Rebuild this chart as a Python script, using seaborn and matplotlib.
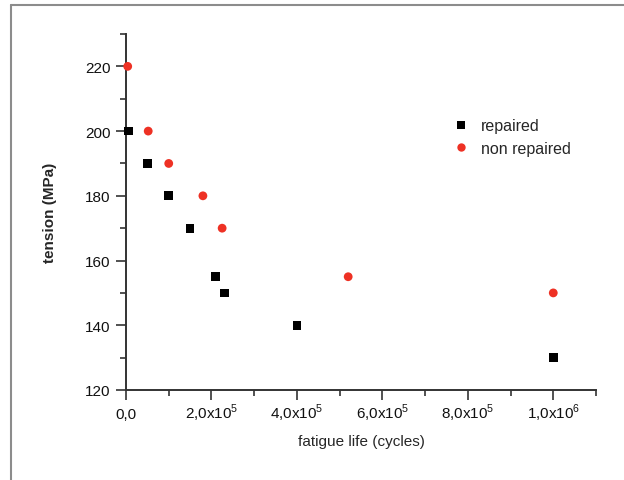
import pandas as pd
import matplotlib.pyplot as plt
import seaborn as sns
from matplotlib.lines import Line2D
from matplotlib.ticker import MultipleLocator

# fatigue data
repaired_cycles = [5e3, 5e4, 1e5, 1.5e5, 2.1e5, 2.3e5, 4e5, 1e6]
repaired_tension = [200, 190, 180, 170, 155, 150, 140, 130]

non_repaired_cycles = [4e3, 5.2e4, 1e5, 1.8e5, 2.25e5, 5.2e5, 1e6]
non_repaired_tension = [220, 200, 190, 180, 170, 155, 150]

x_ticks = [0, 2e5, 4e5, 6e5, 8e5, 1e6]
x_tick_labels = ['0,0', r'2,0x10$^5$', r'4,0x10$^5$', r'6,0x10$^5$',
                 r'8,0x10$^5$', r'1,0x10$^6$']
y_ticks = [120, 140, 160, 180, 200, 220]

df = pd.concat([
    pd.DataFrame({'cycles': repaired_cycles, 'tension': repaired_tension,
                  'group': 'repaired'}),
    pd.DataFrame({'cycles': non_repaired_cycles, 'tension': non_repaired_tension,
                  'group': 'non repaired'}),
])

sns.set_theme(style="white")
plt.rcParams['font.family'] = ['Liberation Sans', 'DejaVu Sans']
plt.rcParams['mathtext.fontset'] = 'custom'
plt.rcParams['mathtext.rm'] = 'Liberation Sans'

fig = plt.figure(figsize=(6.24, 4.81), dpi=100)
ax = fig.add_axes([126 / 624, 1 - 391 / 481, 470 / 624, 356 / 481])

sns.scatterplot(
    data=df, x='cycles', y='tension', hue='group', style='group',
    palette={'repaired': 'black', 'non repaired': '#ee3124'},
    markers={'repaired': 's', 'non repaired': 'o'},
    s=40, linewidth=0, ax=ax, clip_on=False, zorder=3
)

ax.set_xlim(0, 1.1e6)
ax.set_ylim(120, 230)
ax.set_xticks(x_ticks)
ax.set_xticklabels(x_tick_labels)
ax.set_yticks(y_ticks)
ax.xaxis.set_minor_locator(MultipleLocator(1e5))
ax.yaxis.set_minor_locator(MultipleLocator(10))

for side in ['top', 'right']:
    ax.spines[side].set_visible(False)
for side in ['left', 'bottom']:
    ax.spines[side].set_color('#333333')
    ax.spines[side].set_linewidth(1.4)

ax.tick_params(which='major', direction='out', length=7, width=1.2,
               color='#333333', labelsize=11, labelcolor='#111111', pad=4,
               left=True, bottom=True)
ax.tick_params(which='minor', direction='out', length=4, width=1.2,
               color='#333333', left=True, bottom=True)
ax.tick_params(axis='x', which='major', pad=13)

# keep all x tick labels on one baseline despite the superscripts
for lab in ax.get_xticklabels():
    lab.set_verticalalignment('baseline')

ax.set_xlabel('fatigue life (cycles)', fontsize=11, labelpad=8)
ax.set_ylabel('tension (MPa)', fontsize=11, fontweight='bold', labelpad=20)

leg = ax.legend(loc='upper left', bbox_to_anchor=(431 / 624, 1 - 105 / 481),
                bbox_transform=fig.transFigure, frameon=False, fontsize=11.5,
                handletextpad=0.2, labelspacing=0.45, markerscale=0.95)

# grey frame around the figure (top and left edges)
fig.add_artist(Line2D([10.5 / 624, 10.5 / 624], [0, 1 - 6 / 481],
                      transform=fig.transFigure, color='#8c8c8c', lw=1.5))
fig.add_artist(Line2D([10.5 / 624, 1], [1 - 6 / 481, 1 - 6 / 481],
                      transform=fig.transFigure, color='#8c8c8c', lw=1.5))

fig.savefig('out.png', dpi=100)
